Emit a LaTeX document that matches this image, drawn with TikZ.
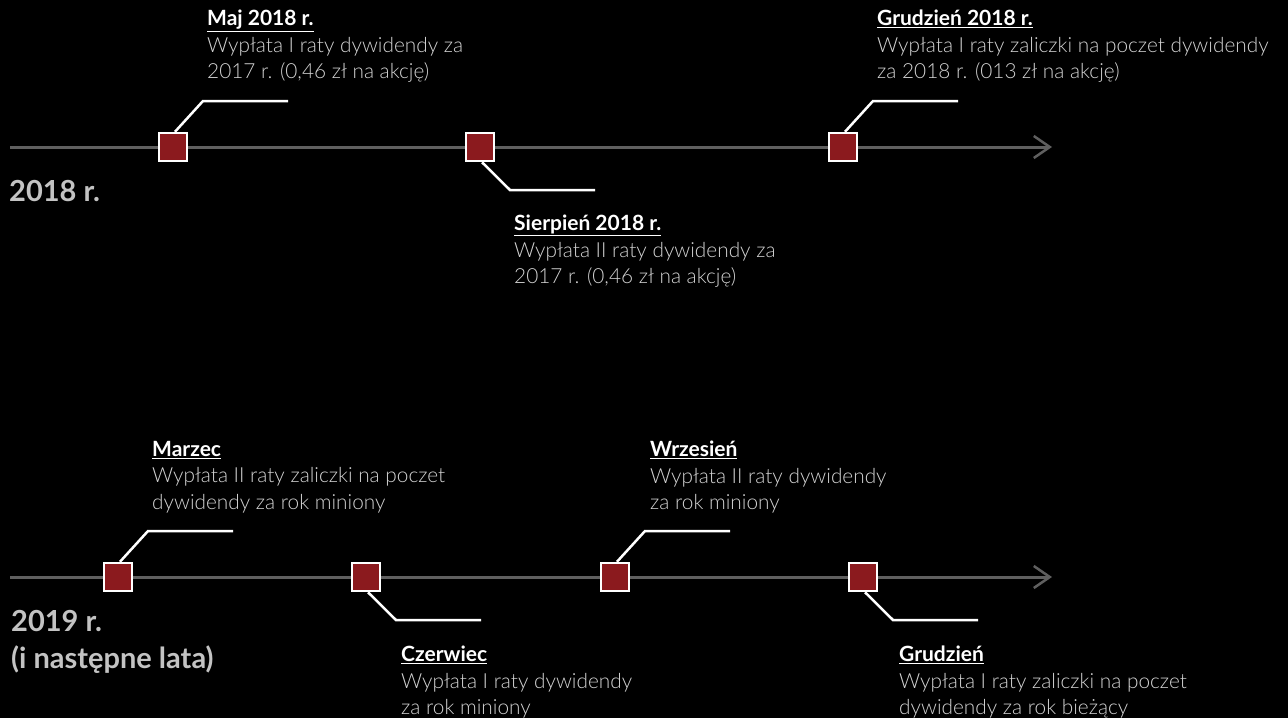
\documentclass[tikz,border=0pt]{standalone}
\usepackage{fontspec}
\setmainfont{Lato}
\newfontfamily\lightfont{Lato Light}
\usepackage{xcolor}
\usetikzlibrary{arrows.meta}

\definecolor{axisgray}{RGB}{95,95,95}
\definecolor{darkred}{RGB}{139,26,30}
\definecolor{bodygray}{RGB}{210,210,210}
\definecolor{yeargray}{RGB}{195,195,195}

\tikzset{
  axis/.style={axisgray, line width=3pt, -{Straight Barb[length=16pt,width=22pt,line width=2.5pt]}},
  mark box/.style={draw=white, line width=2.5pt, fill=darkred, minimum size=28pt, inner sep=0pt},
  lead/.style={white, line width=2.5pt},
  event/.style={anchor=north west, align=left, inner sep=0pt, text=bodygray,
    font=\lightfont\fontsize{20.8}{26.5}\selectfont},
  yearlabel/.style={anchor=north west, align=left, inner sep=0pt, text=yeargray,
    font=\bfseries\fontsize{29}{37}\selectfont}
}
\newcommand{\evtitle}[1]{\textcolor{white}{\normalfont\bfseries\fontsize{21}{26.5}\selectfont\underline{#1}}}

\begin{document}
\begin{tikzpicture}[x=1pt,y=-1pt]
  \fill[black] (0,0) rectangle (1288,718);
  \useasboundingbox (0,0) rectangle (1288,718);

  % 2018
  \coordinate (s18) at (10,147);
  \coordinate (e18) at (1052,147);
  \draw[axis] (s18) -- (e18);

  \node[mark box] (maj) at (173,147) {};
  \node[mark box] (sie) at (480,147) {};
  \node[mark box] (gru) at (843,147) {};

  \coordinate (maja) at (203,101);
  \coordinate (majb) at (288,101);
  \draw[lead] ([xshift=2pt]maj.north) -- (maja) -- (majb);
  \coordinate (siea) at (510,190);
  \coordinate (sieb) at (595,190);
  \draw[lead] ([xshift=2pt]sie.south) -- (siea) -- (sieb);
  \coordinate (grua) at (873,101);
  \coordinate (grub) at (958,101);
  \draw[lead] ([xshift=2pt]gru.north) -- (grua) -- (grub);

  \node[event] (tmaj) at (207,10) {\evtitle{Maj 2018 r.}\\
    Wypłata I raty dywidendy za\\ 2017 r. (0,46 zł na akcję)};
  \node[event] (tsie) at (514,215) {\evtitle{Sierpień 2018 r.}\\
    Wypłata II raty dywidendy za\\ 2017 r. (0,46 zł na akcję)};
  \node[event] (tgru) at (877,10) {\evtitle{Grudzień 2018 r.}\\
    Wypłata I raty zaliczki na poczet dywidendy\\ za 2018 r. (013 zł na akcję)};

  \node[yearlabel] (y18) at (9,180) {2018 r.};

  % 2019
  \coordinate (s19) at (10,577);
  \coordinate (e19) at (1052,577);
  \draw[axis] (s19) -- (e19);

  \node[mark box] (mar) at (118,577) {};
  \node[mark box] (cze) at (366,577) {};
  \node[mark box] (wrz) at (615,577) {};
  \node[mark box] (gr2) at (863,577) {};

  \coordinate (mara) at (148,531);
  \coordinate (marb) at (233,531);
  \draw[lead] ([xshift=2pt]mar.north) -- (mara) -- (marb);
  \coordinate (czea) at (396,620);
  \coordinate (czeb) at (481,620);
  \draw[lead] ([xshift=2pt]cze.south) -- (czea) -- (czeb);
  \coordinate (wrza) at (645,531);
  \coordinate (wrzb) at (730,531);
  \draw[lead] ([xshift=2pt]wrz.north) -- (wrza) -- (wrzb);
  \coordinate (gr2a) at (893,620);
  \coordinate (gr2b) at (978,620);
  \draw[lead] ([xshift=2pt]gr2.south) -- (gr2a) -- (gr2b);

  \node[event] (tmar) at (152,441) {\evtitle{Marzec}\\
    Wypłata II raty zaliczki na poczet\\ dywidendy za rok miniony};
  \node[event] (twrz) at (650,441) {\evtitle{Wrzesień}\\
    Wypłata II raty dywidendy\\ za rok miniony};
  \node[event] (tcze) at (401,646) {\evtitle{Czerwiec}\\
    Wypłata I raty dywidendy\\ za rok miniony};
  \node[event] (tgr2) at (899,646) {\evtitle{Grudzień}\\
    Wypłata I raty zaliczki na poczet\\ dywidendy za rok bieżący};

  \node[yearlabel] (y19) at (11,610) {2019 r.\\ (i następne lata)};
\end{tikzpicture}
\end{document}
